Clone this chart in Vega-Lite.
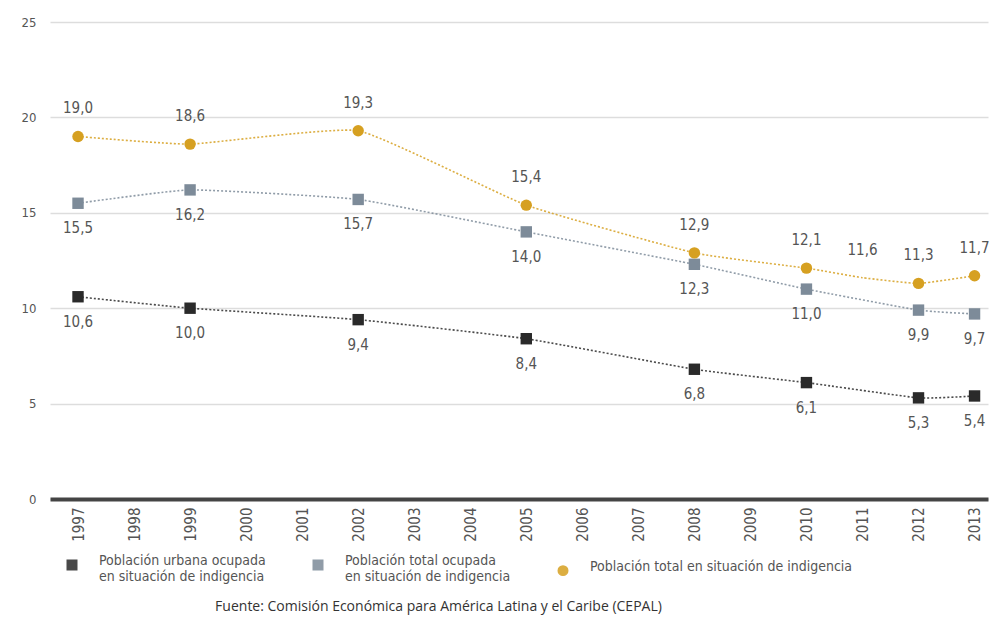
{
  "$schema": "https://vega.github.io/schema/vega-lite/v6.json",
  "width": 938,
  "height": 477,
  "autosize": "none",
  "padding": {"left": 50, "top": 22, "right": 3, "bottom": 122},
  "background": "white",
  "title": {
    "text": "Fuente:  Comisión Económica para América Latina y el Caribe (CEPAL)",
    "orient": "bottom",
    "anchor": "start",
    "dx": 194,
    "offset": 16,
    "font": "Open Sans",
    "fontSize": 14,
    "fontWeight": "normal",
    "color": "#333333"
  },
  "data": {
    "values": [
      {"anio": 1997, "serie": "Población urbana ocupada en situación de indigencia", "valor": 10.6},
      {"anio": 1999, "serie": "Población urbana ocupada en situación de indigencia", "valor": 10.0},
      {"anio": 2002, "serie": "Población urbana ocupada en situación de indigencia", "valor": 9.4},
      {"anio": 2005, "serie": "Población urbana ocupada en situación de indigencia", "valor": 8.4},
      {"anio": 2008, "serie": "Población urbana ocupada en situación de indigencia", "valor": 6.8},
      {"anio": 2010, "serie": "Población urbana ocupada en situación de indigencia", "valor": 6.1},
      {"anio": 2012, "serie": "Población urbana ocupada en situación de indigencia", "valor": 5.3},
      {"anio": 2013, "serie": "Población urbana ocupada en situación de indigencia", "valor": 5.4},
      {"anio": 1997, "serie": "Población total ocupada en situación de indigencia", "valor": 15.5},
      {"anio": 1999, "serie": "Población total ocupada en situación de indigencia", "valor": 16.2},
      {"anio": 2002, "serie": "Población total ocupada en situación de indigencia", "valor": 15.7},
      {"anio": 2005, "serie": "Población total ocupada en situación de indigencia", "valor": 14.0},
      {"anio": 2008, "serie": "Población total ocupada en situación de indigencia", "valor": 12.3},
      {"anio": 2010, "serie": "Población total ocupada en situación de indigencia", "valor": 11.0},
      {"anio": 2012, "serie": "Población total ocupada en situación de indigencia", "valor": 9.9},
      {"anio": 2013, "serie": "Población total ocupada en situación de indigencia", "valor": 9.7},
      {"anio": 1997, "serie": "Población total en situación de indigencia", "valor": 19.0},
      {"anio": 1999, "serie": "Población total en situación de indigencia", "valor": 18.6},
      {"anio": 2002, "serie": "Población total en situación de indigencia", "valor": 19.3},
      {"anio": 2005, "serie": "Población total en situación de indigencia", "valor": 15.4},
      {"anio": 2008, "serie": "Población total en situación de indigencia", "valor": 12.9},
      {"anio": 2010, "serie": "Población total en situación de indigencia", "valor": 12.1},
      {"anio": 2011, "serie": "Población total en situación de indigencia", "valor": 11.6},
      {"anio": 2012, "serie": "Población total en situación de indigencia", "valor": 11.3},
      {"anio": 2013, "serie": "Población total en situación de indigencia", "valor": 11.7}
    ]
  },
  "encoding": {
    "x": {
      "field": "anio",
      "type": "quantitative",
      "scale": {"domain": [1996.5, 2013.24], "nice": false, "zero": false},
      "axis": {
        "title": null,
        "values": [1997,1998,1999,2000,2001,2002,2003,2004,2005,2006,2007,2008,2009,2010,2011,2012,2013],
        "format": "d",
        "labelAngle": -90,
        "labelPadding": 8,
        "labelFont": "DejaVu Sans Condensed",
        "labelFontSize": 15,
        "labelColor": "#555555",
        "ticks": false,
        "grid": false,
        "domainColor": "#444444",
        "domainWidth": 4
      }
    },
    "y": {
      "field": "valor",
      "type": "quantitative",
      "scale": {"domain": [0, 25], "nice": false},
      "axis": {
        "title": null,
        "values": [0, 5, 10, 15, 20, 25],
        "labelPadding": 14,
        "labelFont": "DejaVu Sans Condensed",
        "labelFontSize": 13,
        "labelColor": "#555555",
        "ticks": false,
        "domain": false,
        "gridColor": "#dddddd",
        "gridWidth": 1.5
      }
    }
  },
  "layer": [
    {
      "mark": {"type": "line", "interpolate": "cardinal", "tension": 0.6, "strokeWidth": 1.6, "strokeDash": [2, 2], "opacity": 0.85},
      "encoding": {
        "color": {
          "field": "serie",
          "type": "nominal",
          "scale": {
            "domain": ["Población urbana ocupada en situación de indigencia", "Población total ocupada en situación de indigencia", "Población total en situación de indigencia"],
            "range": ["#2a2a2a", "#7d8b99", "#d6a021"]
          }
        }
      }
    },
    {
      "transform": [{"filter": "datum.anio != 2011"}],
      "mark": {"type": "point", "filled": true, "opacity": 1, "size": 130},
      "encoding": {
        "color": {
          "field": "serie",
          "type": "nominal",
          "legend": {
            "title": null,
            "orient": "bottom",
            "direction": "horizontal",
            "columns": 3,
            "offset": 16,
            "padding": 0,
            "symbolOffset": 15,
            "columnPadding": 30,
            "symbolSize": 90,
            "labelFont": "DejaVu Sans Condensed",
            "labelFontSize": 14,
            "labelColor": "#555555",
            "labelLimit": 400,
            "labelOffset": 20,
            "labelBaseline": "alphabetic",
            "labelExpr": "indexof(datum.label, 'ocupada') > 0 ? [slice(datum.label, 0, indexof(datum.label, ' en ')), slice(datum.label, indexof(datum.label, ' en ') + 1)] : datum.label"
          }
        },
        "shape": {
          "field": "serie",
          "type": "nominal",
          "scale": {
            "domain": ["Población urbana ocupada en situación de indigencia", "Población total ocupada en situación de indigencia", "Población total en situación de indigencia"],
            "range": ["square", "square", "circle"]
          },
          "legend": {
            "title": null,
            "orient": "bottom",
            "direction": "horizontal",
            "columns": 3,
            "offset": 16,
            "padding": 0,
            "symbolOffset": 15,
            "columnPadding": 30,
            "symbolSize": 90,
            "labelFont": "DejaVu Sans Condensed",
            "labelFontSize": 14,
            "labelColor": "#555555",
            "labelLimit": 400,
            "labelOffset": 20,
            "labelBaseline": "alphabetic",
            "labelExpr": "indexof(datum.label, 'ocupada') > 0 ? [slice(datum.label, 0, indexof(datum.label, ' en ')), slice(datum.label, indexof(datum.label, ' en ') + 1)] : datum.label"
          }
        }
      }
    },
    {
      "transform": [{"filter": "datum.serie == 'Población total en situación de indigencia'"}],
      "mark": {"type": "text", "dy": -28, "font": "DejaVu Sans Condensed", "fontSize": 15, "fill": "#555555"},
      "encoding": {
        "text": {"field": "valor", "type": "quantitative", "format": ".1f"}
      }
    },
    {
      "transform": [{"filter": "datum.serie != 'Población total en situación de indigencia'"}],
      "mark": {"type": "text", "dy": 25, "font": "DejaVu Sans Condensed", "fontSize": 15, "fill": "#555555"},
      "encoding": {
        "text": {"field": "valor", "type": "quantitative", "format": ".1f"}
      }
    }
  ],
  "config": {
    "view": {"stroke": null},
    "locale": {
      "number": {"decimal": ",", "thousands": ".", "grouping": [3], "currency": ["", " €"]}
    }
  }
}
